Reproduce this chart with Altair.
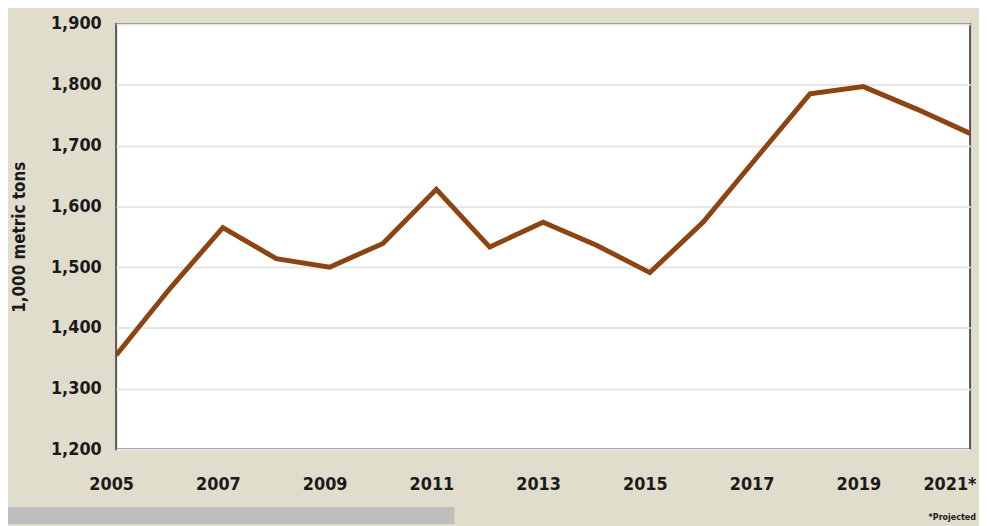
import altair as alt
import pandas as pd

years = list(range(2005, 2022))
values = [1355, 1464, 1565, 1514, 1500, 1539, 1628, 1533, 1574, 1536, 1491, 1574,
          1680, 1785, 1797, 1760, 1720]
tick_years = [2005, 2007, 2009, 2011, 2013, 2015, 2017, 2019, 2021]
y_ticks = [1200, 1300, 1400, 1500, 1600, 1700, 1800, 1900]

df = pd.DataFrame({"year": years, "value": values})
note = pd.DataFrame({"t": ["*Projected"]})

FONT = "DejaVu Sans Condensed"
W, H = 861, 429

line = alt.Chart(df).mark_line(color="#8c4512", strokeWidth=5, strokeJoin="miter", clip=True).encode(
    x=alt.X("year:Q", scale=alt.Scale(domain=[2005, 2021], nice=False),
            axis=alt.Axis(values=tick_years, format="d", grid=False, ticks=False, domain=False,
                          labelFont=FONT, labelFontSize=18, labelFontWeight="bold",
                          labelColor="#1a1a1a", labelPadding=26,
                          labelOffset={"condition": {"test": "datum.value == 2021", "value": 6},
                                       "value": -5},
                          labelAlign={"condition": {"test": "datum.value == 2021", "value": "right"},
                                      "value": "center"},
                          labelExpr="datum.value == 2021 ? '2021*' : datum.label",
                          title=None)),
    y=alt.Y("value:Q", scale=alt.Scale(domain=[1200, 1900], nice=False),
            axis=alt.Axis(values=y_ticks, format=",d", grid=True, gridColor="#e6e6e6", gridWidth=2,
                          ticks=False, domain=False,
                          labelFont=FONT, labelFontSize=18, labelFontWeight="bold",
                          labelColor="#1a1a1a", labelPadding=15,
                          title="1,000 metric tons", titleFont=FONT, titleFontSize=17,
                          titleFontWeight="bold", titleColor="#1a1a1a",
                          titleX=-97, titleY=H / 2, titleAngle=270, titleAlign="center",
                          titleBaseline="middle")),
)

bar = alt.Chart(note).mark_rect(color="#bebebe", clip=False).encode(
    x=alt.value(-109), x2=alt.value(341), y=alt.value(487), y2=alt.value(504)
)

txt = alt.Chart(note).mark_text(font=FONT, fontSize=9, fontWeight="bold", align="right",
                                baseline="middle", color="#1a1a1a", clip=False).encode(
    x=alt.value(867), y=alt.value(497), text="t:N"
)

chart = alt.layer(line, bar, txt).properties(
    width=W, height=H,
    background="#e1ddcc",
    padding={"left": 109, "top": 14, "right": 9, "bottom": 75},
    autosize=alt.AutoSizeParams(type="none"),
).configure_view(fill="white", stroke="#555555", strokeWidth=2)

chart.save("out.html", embed_options={"renderer": "svg", "actions": False})
